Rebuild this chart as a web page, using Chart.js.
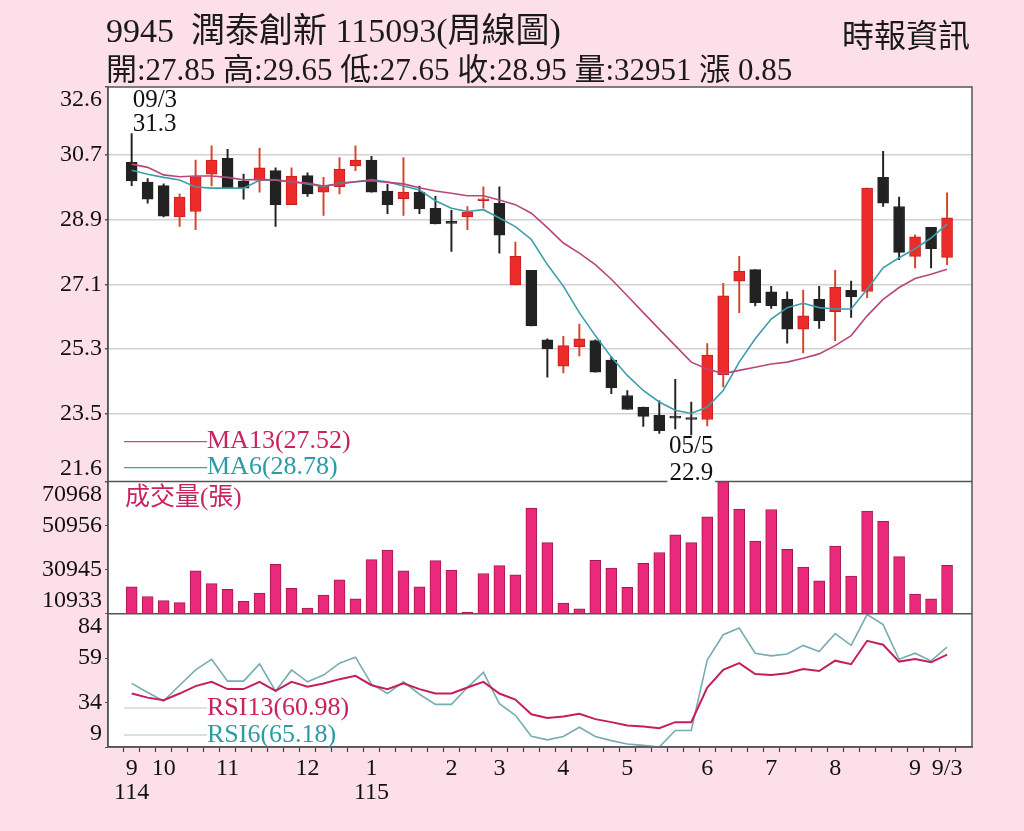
<!DOCTYPE html>
<html>
<head>
<meta charset="utf-8">
<script src="https://cdn.jsdelivr.net/npm/chart.js@4.4.1/dist/chart.umd.min.js"></script>
<style>
  body { margin: 0; background: #fcdfe9; }
  #wrap { position: relative; width: 1024px; height: 831px; overflow: hidden; }
  #chart { position: absolute; left: 0; top: 0; }
  .head { position: absolute; font-family: "Liberation Serif", "Noto Sans CJK TC", serif; color: #1a1a1a; white-space: pre; line-height: 1; }
</style>
</head>
<body>
<div id="wrap">
  <canvas id="chart" width="1024" height="831"></canvas>
  <div class="head" style="left:106px; top:14px; font-size:34px;">9945  潤泰創新 115093(周線圖)</div>
  <div class="head" style="left:106px; top:54px; font-size:31px;">開:27.85 高:29.65 低:27.65 收:28.95 量:32951 漲 0.85</div>
  <div class="head" style="right:54px; top:20px; font-size:32px;">時報資訊</div>
</div>
<script>
// weekly candles, 114/09 -> 115/09/3
const openPrices = [30.5, 29.95, 29.85, 28.98, 29.13, 30.17, 30.61, 29.98, 30.0, 30.27, 29.32, 30.13, 29.67,
  29.82, 30.4, 30.56, 29.7, 29.48, 29.67, 29.22, 28.82, 28.98, 29.43, 29.36, 27.08, 27.49,
  25.55, 24.82, 25.36, 25.53, 24.99, 24.0, 23.68, 23.45, 23.4, 23.35, 23.33, 24.58, 27.19,
  27.51, 26.89, 26.68, 25.85, 26.68, 26.34, 26.93, 26.9, 30.08, 29.27, 27.88, 28.69, 27.85];
const highPrices = [31.3, 30.05, 29.9, 29.62, 30.56, 30.96, 30.86, 30.17, 30.9, 30.35, 30.35, 30.21, 30.08,
  30.63, 30.96, 30.67, 29.89, 30.63, 29.84, 29.55, 29.16, 29.27, 29.82, 29.82, 28.28, 27.49,
  25.58, 25.65, 25.99, 25.55, 25.08, 24.14, 23.68, 23.85, 24.45, 23.82, 25.45, 27.13, 27.88,
  27.51, 27.04, 26.89, 26.94, 27.04, 27.49, 27.19, 29.78, 30.81, 29.53, 28.48, 28.69, 29.65];
const lowPrices = [29.85, 29.36, 28.98, 28.71, 28.62, 29.84, 29.78, 29.47, 29.67, 28.71, 29.32, 29.55, 29.02,
  29.62, 30.27, 29.67, 29.07, 29.02, 29.07, 28.78, 28.02, 28.62, 29.22, 27.97, 27.08, 25.94,
  24.51, 24.63, 25.1, 24.65, 24.05, 23.61, 23.14, 22.94, 23.07, 22.9, 23.15, 24.24, 26.31,
  26.5, 26.43, 25.46, 25.19, 25.87, 25.53, 26.18, 26.73, 29.27, 27.79, 27.56, 27.56, 27.65];
const closePrices = [29.98, 29.47, 29.0, 29.53, 30.1, 30.56, 29.78, 29.78, 30.35, 29.32, 30.12, 29.62, 29.84,
  30.31, 30.56, 29.67, 29.32, 29.67, 29.2, 28.78, 28.8, 29.11, 29.48, 28.47, 27.88, 25.94,
  25.3, 25.39, 25.58, 24.65, 24.21, 23.61, 23.42, 23.02, 23.37, 23.33, 25.13, 26.78, 27.47,
  26.59, 26.5, 25.85, 26.22, 26.08, 27.02, 26.75, 29.78, 29.36, 27.99, 28.42, 28.09, 28.95];
const volumes = [23216, 18783, 16936, 16013, 30467, 24602, 22016, 16613, 20307, 33376, 22478, 13519, 19384,
  26310, 17675, 35545, 39840, 30467, 23216, 35084, 30790, 11672, 29220, 32775, 28620, 58958,
  43257, 15828, 13242, 35223, 31713, 22940, 33837, 38778, 46767, 43257, 54941, 70968, 58497,
  43996, 58312, 40164, 32175, 25849, 41688, 28019, 57572, 52955, 36932, 19846, 17675, 32951];
const ma13 = [30.45, 30.36, 30.15, 30.1, 30.12, 30.12, 30.08, 30.01, 30.02, 30.01, 29.96, 29.92, 29.84,
  29.9, 29.96, 29.99, 29.94, 29.9, 29.79, 29.7, 29.64, 29.57, 29.57, 29.45, 29.32, 29.08,
  28.68, 28.25, 27.97, 27.65, 27.24, 26.78, 26.31, 25.85, 25.39, 24.93, 24.74, 24.61, 24.7,
  24.79, 24.88, 24.93, 25.04, 25.16, 25.39, 25.67, 26.22, 26.68, 27.01, 27.26, 27.38, 27.52];
const ma6 = [30.28, 30.17, 30.08, 30.01, 29.81, 29.78, 29.78, 29.78, 30.0, 30.0, 29.96, 29.9, 29.82,
  29.92, 29.96, 30.01, 29.96, 29.84, 29.73, 29.43, 29.22, 29.13, 29.18, 28.95, 28.71, 28.35,
  27.65, 27.05, 26.31, 25.67, 25.07, 24.56, 24.14, 23.82, 23.59, 23.5, 23.68, 24.14, 24.93,
  25.58, 26.13, 26.45, 26.57, 26.45, 26.41, 26.41, 26.96, 27.56, 27.84, 28.09, 28.39, 28.78];
const rsi13 = [39.1, 36.8, 35.3, 39.1, 43.3, 45.7, 41.6, 41.6, 45.7, 40.6, 45.7, 42.9, 44.8,
  47.2, 49.1, 43.8, 41.6, 44.8, 41.6, 39.1, 39.1, 42.5, 45.7, 39.1, 35.7, 27.4,
  25.4, 26.2, 27.7, 24.7, 23.0, 21.1, 20.5, 19.6, 23.0, 23.0, 42.5, 52.4, 56.2,
  50.1, 49.5, 50.5, 52.9, 51.8, 57.6, 55.6, 68.8, 66.6, 57.1, 58.6, 56.7, 60.98];
const rsi6 = [44.8, 39.7, 34.9, 43.8, 52.4, 58.4, 46.1, 46.1, 55.8, 40.4, 52.4, 45.7, 49.5,
  56.2, 59.6, 44.4, 39.1, 45.7, 38.7, 33.0, 33.0, 42.5, 51.0, 33.4, 26.8, 15.0,
  13.0, 14.9, 20.1, 14.9, 12.6, 10.7, 9.9, 9.0, 18.3, 18.3, 58.0, 72.2, 76.0,
  61.8, 60.3, 61.4, 66.2, 62.8, 72.8, 66.2, 83.6, 77.9, 58.4, 61.8, 57.5, 65.18];

const priceTicks = [21.6, 23.5, 25.3, 27.1, 28.9, 30.7, 32.6];
const volumeTicks = [10933, 30945, 50956, 70968];
const rsiTicks = [9, 34, 59, 84];

const monthTickIndex = [0, 2, 6, 11, 15, 20, 23, 27, 31, 36, 40, 44, 49, 51];
const monthTickLabels = ['9', '10', '11', '12', '1', '2', '3', '4', '5', '6', '7', '8', '9', '9/3'];
const yearTickIndex = [0, 15];
const yearTickLabels = ['114', '115'];

const RED = '#ee2b2b';
const BLACK = '#222222';
const PINK_TEXT = '#c8235e';
const TEAL_TEXT = '#2b9ba6';
const SERIF = '"Liberation Serif", "Noto Sans CJK TC", serif';

function xy(values) {
    return values.map((v, i) => ({ x: i, y: v }));
}

function edgeLabel(value, ticks, text) {
    // lift the top label down and the bottom label up, as the source chart does
    if (value === ticks[ticks.length - 1]) return ['', text];
    if (value === ticks[0]) return [text, ''];
    return text;
}

const upDown = closePrices.map((c, i) => c > openPrices[i]);

const panelPlugin = {
    id: 'panels',
    beforeDraw(chart) {
        const a = chart.chartArea;
        const ctx = chart.ctx;
        ctx.save();
        ctx.fillStyle = '#ffffff';
        ctx.fillRect(a.left, a.top, a.right - a.left, a.bottom - a.top);
        ctx.restore();
    },
    afterDatasetsDraw(chart) {
        const a = chart.chartArea;
        const ctx = chart.ctx;
        const yv = chart.scales.yVol;
        ctx.save();
        ctx.strokeStyle = '#555555';
        ctx.lineWidth = 1.5;
        ctx.strokeRect(a.left, a.top, a.right - a.left, a.bottom - a.top);
        ctx.beginPath();
        ctx.moveTo(a.left, yv.top);
        ctx.lineTo(a.right, yv.top);
        ctx.moveTo(a.left, yv.bottom);
        ctx.lineTo(a.right, yv.bottom);
        ctx.stroke();
        ctx.restore();
    },
    afterDraw(chart) {
        const ctx = chart.ctx;
        const x = chart.scales.x;
        const yp = chart.scales.yPrice;
        const yv = chart.scales.yVol;
        const yr = chart.scales.yRsi;
        const lx0 = chart.chartArea.left + 16;
        const lx1 = chart.chartArea.left + 99;

        ctx.save();
        ctx.textBaseline = 'middle';

        function legendLine(y, lineColor, text, textColor) {
            ctx.strokeStyle = lineColor;
            ctx.lineWidth = 1.2;
            ctx.beginPath();
            ctx.moveTo(lx0, y);
            ctx.lineTo(lx1, y);
            ctx.stroke();
            ctx.fillStyle = textColor;
            ctx.textAlign = 'left';
            ctx.fillText(text, lx1, y);
        }

        ctx.font = '26px ' + SERIF;
        legendLine(yp.bottom - 40, '#b9557f', 'MA13(' + ma13[ma13.length - 1].toFixed(2) + ')', PINK_TEXT);
        legendLine(yp.bottom - 14, '#3f9ea8', 'MA6(' + ma6[ma6.length - 1].toFixed(2) + ')', TEAL_TEXT);
        legendLine(yr.bottom - 39, '#d8b9c6', 'RSI13(' + rsi13[rsi13.length - 1].toFixed(2) + ')', PINK_TEXT);
        legendLine(yr.bottom - 12, '#a9c6ca', 'RSI6(' + rsi6[rsi6.length - 1].toFixed(2) + ')', TEAL_TEXT);

        ctx.font = '25px ' + SERIF;
        ctx.fillStyle = PINK_TEXT;
        ctx.fillText('成交量(張)', lx0 + 1, yv.top + 17);

        // high / low markers
        const hi = highPrices.indexOf(Math.max(...highPrices));
        const lo = lowPrices.indexOf(Math.min(...lowPrices));
        const hx = x.getPixelForValue(hi);
        const hy = yp.getPixelForValue(highPrices[hi]);
        ctx.fillStyle = '#111111';
        ctx.fillText('09/3', hx + 1, hy - 33);
        ctx.fillText(highPrices[hi].toFixed(1), hx + 1, hy - 9);

        const lxp = x.getPixelForValue(lo);
        const lyp = yp.getPixelForValue(lowPrices[lo]);
        ctx.textAlign = 'center';
        ctx.fillText('05/5', lxp, lyp + 11);
        const w = ctx.measureText('22.9').width;
        ctx.fillStyle = '#ffffff';
        ctx.fillRect(lxp - w / 2 - 2, lyp + 28, w + 4, 20);
        ctx.fillStyle = '#111111';
        ctx.fillText(lowPrices[lo].toFixed(1), lxp, lyp + 38);
        ctx.restore();
    }
};

document.addEventListener('DOMContentLoaded', function() {
    Chart.defaults.font.family = SERIF;
    Chart.defaults.font.size = 24;
    Chart.defaults.color = '#111111';

    const ctx = document.getElementById('chart').getContext('2d');
    new Chart(ctx, {
        data: {
            datasets: [
                {
                    type: 'line',
                    label: 'MA13',
                    data: xy(ma13),
                    yAxisID: 'yPrice',
                    borderColor: '#b9467a',
                    borderWidth: 1.6,
                    pointRadius: 0,
                    tension: 0,
                    order: 0
                },
                {
                    type: 'line',
                    label: 'MA6',
                    data: xy(ma6),
                    yAxisID: 'yPrice',
                    borderColor: '#3b9ea8',
                    borderWidth: 1.6,
                    pointRadius: 0,
                    tension: 0,
                    order: 0
                },
                {
                    type: 'bar',
                    label: 'body',
                    data: openPrices.map((o, i) => ({ x: i, y: [o, closePrices[i]] })),
                    yAxisID: 'yPrice',
                    backgroundColor: upDown.map(u => u ? RED : BLACK),
                    borderColor: upDown.map(u => u ? '#c42020' : BLACK),
                    borderWidth: 1,
                    borderSkipped: false,
                    barThickness: 11,
                    minBarLength: 2,
                    grouped: false,
                    order: 1
                },
                {
                    type: 'bar',
                    label: 'wick',
                    data: lowPrices.map((l, i) => ({ x: i, y: [l, highPrices[i]] })),
                    yAxisID: 'yPrice',
                    backgroundColor: upDown.map(u => u ? '#d4452e' : BLACK),
                    barThickness: 1.3,
                    grouped: false,
                    order: 2
                },
                {
                    type: 'bar',
                    label: '成交量',
                    data: xy(volumes),
                    yAxisID: 'yVol',
                    backgroundColor: '#ea287c',
                    borderColor: '#a3194f',
                    borderWidth: 1,
                    borderSkipped: 'bottom',
                    barThickness: 11,
                    grouped: false,
                    order: 1
                },
                {
                    type: 'line',
                    label: 'RSI13',
                    data: xy(rsi13),
                    yAxisID: 'yRsi',
                    borderColor: '#c41f5b',
                    borderWidth: 2,
                    pointRadius: 0,
                    tension: 0,
                    order: 0
                },
                {
                    type: 'line',
                    label: 'RSI6',
                    data: xy(rsi6),
                    yAxisID: 'yRsi',
                    borderColor: '#78acb3',
                    borderWidth: 1.6,
                    pointRadius: 0,
                    tension: 0,
                    order: 0
                }
            ]
        },
        options: {
            responsive: false,
            animation: false,
            layout: {
                padding: { top: 87, left: 0, right: 52, bottom: 0 }
            },
            plugins: {
                legend: { display: false },
                tooltip: { enabled: false }
            },
            scales: {
                x: {
                    type: 'linear',
                    min: -0.96,
                    max: 52.04,
                    afterBuildTicks: function(scale) {
                        scale.ticks = openPrices.map((o, i) => ({ value: i }));
                    },
                    afterFit: function(scale) {
                        scale.height = 84;
                    },
                    ticks: {
                        autoSkip: false,
                        maxRotation: 0,
                        padding: 5,
                        font: { size: 24, lineHeight: 0.98 },
                        callback: function(value) {
                            const m = monthTickIndex.indexOf(value);
                            if (m < 0) return '';
                            const y = yearTickIndex.indexOf(value);
                            return y < 0 ? monthTickLabels[m] : [monthTickLabels[m], yearTickLabels[y]];
                        }
                    },
                    grid: { drawOnChartArea: false, tickLength: 5, tickColor: '#444444', tickWidth: 1.2 },
                    border: { color: '#555555', width: 1.5 }
                },
                // left-stacked axes are laid out bottom-up, so RSI comes first
                yRsi: {
                    type: 'linear',
                    position: 'left',
                    stack: 'panels',
                    stackWeight: 133,
                    min: 9,
                    max: 84,
                    afterBuildTicks: function(scale) {
                        scale.ticks = rsiTicks.map(v => ({ value: v }));
                    },
                    afterFit: function(scale) {
                        scale.width = 108;
                    },
                    ticks: {
                        autoSkip: false,
                        padding: 3,
                        font: { lineHeight: 1.1 },
                        callback: v => edgeLabel(v, rsiTicks, String(v))
                    },
                    grid: { drawOnChartArea: false, tickLength: 3, tickColor: '#555555' },
                    border: { color: '#555555', width: 1.5 }
                },
                yVol: {
                    type: 'linear',
                    position: 'left',
                    stack: 'panels',
                    stackWeight: 132,
                    min: 10933,
                    max: 70968,
                    afterBuildTicks: function(scale) {
                        scale.ticks = volumeTicks.map(v => ({ value: v }));
                    },
                    afterFit: function(scale) {
                        scale.width = 108;
                    },
                    ticks: {
                        autoSkip: false,
                        padding: 3,
                        font: { lineHeight: 1.1 },
                        callback: v => edgeLabel(v, volumeTicks, String(v))
                    },
                    grid: { drawOnChartArea: false, tickLength: 3, tickColor: '#555555' },
                    border: { color: '#555555', width: 1.5 }
                },
                yPrice: {
                    type: 'linear',
                    position: 'left',
                    stack: 'panels',
                    stackWeight: 394,
                    min: 21.6,
                    max: 32.6,
                    afterBuildTicks: function(scale) {
                        scale.ticks = priceTicks.map(v => ({ value: v }));
                    },
                    afterFit: function(scale) {
                        scale.width = 108;
                    },
                    ticks: {
                        autoSkip: false,
                        padding: 3,
                        font: { lineHeight: 1.1 },
                        callback: v => edgeLabel(v, priceTicks, v.toFixed(1))
                    },
                    grid: {
                        color: c => (c.tick && (c.tick.value === 21.6 || c.tick.value === 32.6)) ? 'rgba(0,0,0,0)' : '#d2d2d2',
                        lineWidth: 1.5,
                        tickLength: 3,
                        tickColor: '#555555'
                    },
                    border: { color: '#555555', width: 1.5 }
                }
            }
        },
        plugins: [panelPlugin]
    });
});
</script>
</body>
</html>
